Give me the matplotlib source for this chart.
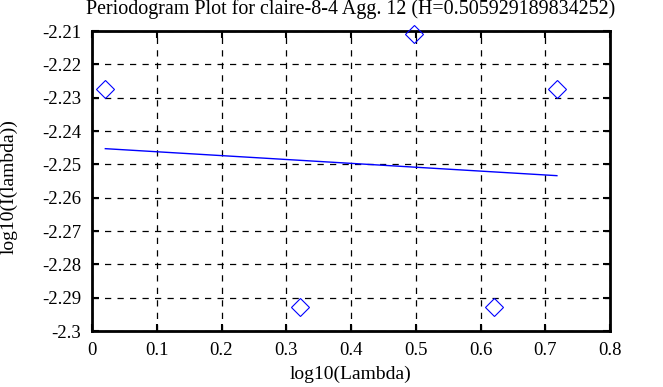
import matplotlib

matplotlib.use("Agg")
import matplotlib.pyplot as plt

plt.rcParams["font.family"] = ["Liberation Serif", "DejaVu Serif"]

# periodogram points
log_lambda = [0.0206, 0.3213, 0.4973, 0.6214, 0.7187]
log_I = [-2.2275, -2.2927, -2.2109, -2.2927, -2.2275]
# fitted line endpoints
fit_x = [0.0206, 0.7180]
fit_y = [-2.2453, -2.2534]
xticks = [0, 0.1, 0.2, 0.3, 0.4, 0.5, 0.6, 0.7, 0.8]
yticks = [-2.3, -2.29, -2.28, -2.27, -2.26, -2.25, -2.24, -2.23, -2.22, -2.21]

W, H = 663, 387
fig = plt.figure(figsize=(W / 100, H / 100), dpi=100)
ax = fig.add_axes([92 / W, 1 - 331 / H, (610 - 92) / W, (331 - 31) / H])

ax.plot(log_lambda, log_I, ls="none", marker="D", ms=9, mfc="none", mec="blue", mew=0.8, clip_on=False, zorder=3)
ax.plot(fit_x, fit_y, color="blue", lw=1, zorder=3)

ax.set_xlim(0, 0.8); ax.set_ylim(-2.3, -2.21)
ax.set_xticks(xticks); ax.set_yticks(yticks)
ax.set_xticklabels([f"{t:g}" for t in xticks])
ax.set_yticklabels([f"{t:g}" for t in yticks])
ax.grid(True, color="black", ls=(0, (5, 5)), lw=0.9)
ax.tick_params(direction="in", length=5, width=1.5, top=True, right=True, labelsize=13.5, pad=8)
for s in ax.spines.values():
    s.set_linewidth(2)

fig.text(351 / W, 1 - 14 / H, "Periodogram Plot for claire-8-4 Agg. 12 (H=0.505929189834252)",
         fontsize=14.4, ha="center", va="baseline")
ax.set_xlabel("log10(Lambda)", fontsize=14, labelpad=5)
ax.set_ylabel("log10(I(lambda))", fontsize=14, labelpad=0)
ax.yaxis.set_label_coords(-74 / 518, 0.48)

fig.savefig("out.png", dpi=100)
